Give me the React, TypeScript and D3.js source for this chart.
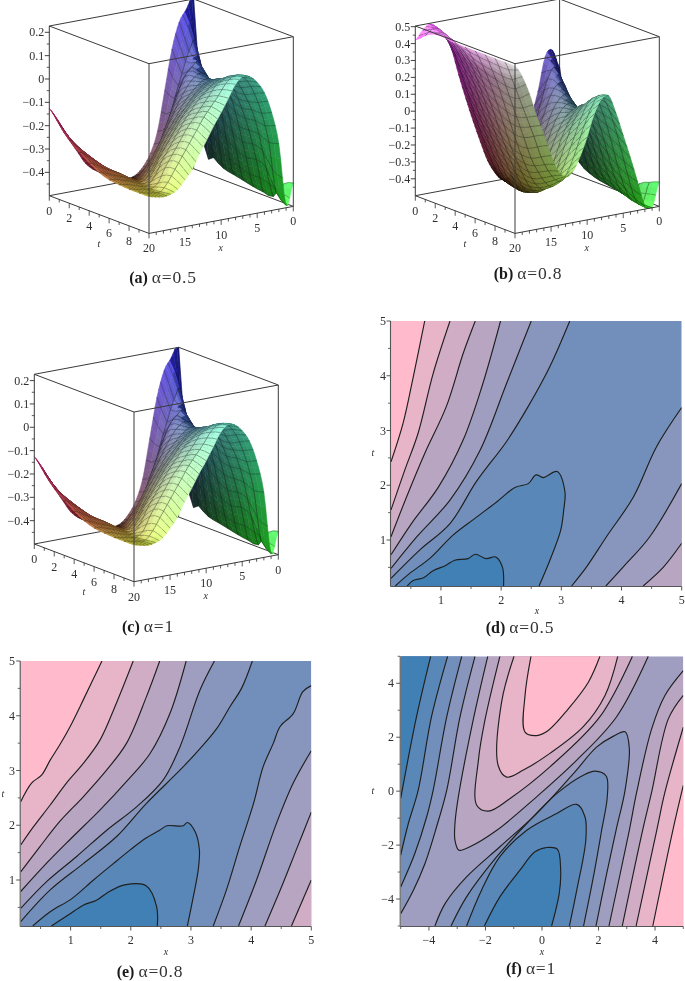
import React from "react";
import * as d3 from "d3";

type Pt = [number, number];
type Closure = "TL" | "BR" | "EDGE";
type Line = [number, Closure, Pt[]];

const surfaceA: number[][] = [
  [.25,.19,.14,.03,-.14,-.31,-.40,-.45,-.48,-.49,-.49,-.475,-.46,-.44,-.42,-.39,-.34,-.29,-.24,-.18,-.126],
  [-.376,.05,.03,-.06,-.16,-.27,-.36,-.42,-.45,-.465,-.47,-.47,-.455,-.435,-.41,-.38,-.345,-.31,-.27,-.225,-.18],
  [-.42,-.12,0,-.015,-.05,-.12,-.2,-.28,-.35,-.39,-.43,-.45,-.45,-.43,-.41,-.38,-.35,-.32,-.29,-.26,-.23],
  [-.45,-.25,-.06,-.025,-.035,-.07,-.12,-.18,-.24,-.30,-.36,-.41,-.43,-.425,-.405,-.385,-.36,-.335,-.31,-.285,-.265],
  [-.46,-.30,-.13,-.04,-.03,-.05,-.08,-.12,-.17,-.22,-.27,-.33,-.385,-.41,-.40,-.38,-.36,-.345,-.33,-.31,-.295],
  [-.47,-.33,-.18,-.06,-.015,-.02,-.04,-.07,-.11,-.15,-.20,-.25,-.31,-.365,-.395,-.385,-.37,-.355,-.345,-.33,-.32],
  [-.48,-.35,-.21,-.09,-.01,.01,0,-.02,-.05,-.09,-.13,-.18,-.23,-.28,-.34,-.38,-.375,-.36,-.35,-.34,-.335],
  [-.487,-.34,-.21,-.11,-.03,.025,.03,.015,-.01,-.04,-.08,-.12,-.17,-.22,-.27,-.33,-.365,-.365,-.355,-.345,-.34],
  [-.49,-.36,-.21,-.10,-.03,.03,.06,.05,.03,-.01,-.05,-.09,-.13,-.18,-.23,-.28,-.34,-.36,-.355,-.35,-.343],
  [-.42,-.45,-.23,-.10,-.01,.05,.08,.08,.055,.01,-.03,-.07,-.12,-.17,-.22,-.27,-.32,-.355,-.355,-.35,-.343],
  [-.40,-.49,-.22,-.08,.01,.06,.09,.097,.07,.015,-.04,-.09,-.146,-.20,-.26,-.30,-.335,-.35,-.355,-.35,-.343],
];
const surfaceB: number[][] = [
  [.10,.21,.18,-.02,-.17,-.32,-.43,-.49,-.5,-.45,-.37,-.25,-.12,.02,.17,.33,.42,.47,.5,.47,.42],
  [-.3,.02,.14,.08,-.06,-.2,-.33,-.43,-.48,-.48,-.42,-.32,-.2,-.07,.07,.21,.34,.43,.49,.5,.47],
  [-.42,-.15,.05,.07,.01,-.1,-.22,-.34,-.43,-.47,-.46,-.38,-.27,-.14,-.01,.13,.27,.38,.46,.5,.5],
  [-.46,-.28,-.07,.03,.02,-.04,-.14,-.26,-.37,-.45,-.47,-.43,-.33,-.21,-.08,.06,.2,.32,.42,.48,.5],
  [-.48,-.36,-.18,-.03,.01,-.01,-.07,-.17,-.29,-.40,-.46,-.45,-.37,-.26,-.14,-.01,.13,.26,.37,.45,.49],
  [-.49,-.42,-.27,-.11,-.01,0,-.03,-.1,-.2,-.32,-.42,-.44,-.4,-.31,-.19,-.07,.07,.2,.32,.42,.49],
  [-.5,-.45,-.33,-.17,-.03,.05,.03,-.03,-.12,-.24,-.35,-.41,-.4,-.33,-.23,-.12,.02,.16,.29,.4,.49],
  [-.5,-.48,-.38,-.23,-.07,.05,.09,.05,-.03,-.14,-.26,-.35,-.37,-.33,-.25,-.14,-.01,.13,.27,.39,.49],
  [-.41,-.5,-.42,-.28,-.11,.04,.14,.13,.05,-.06,-.17,-.27,-.33,-.3,-.23,-.14,-.01,.12,.25,.38,.49],
  [-.38,-.5,-.46,-.31,-.14,.02,.14,.19,.13,.03,-.09,-.2,-.27,-.26,-.2,-.11,.02,.14,.26,.38,.49],
  [-.355,-.5,-.48,-.33,-.18,-.04,.10,.21,.2,.12,-.01,-.12,-.2,-.22,-.18,-.08,.05,.17,.31,.42,.49],
];
const surfaceC = surfaceA;

const uTicksAC = [.2,.1,0,-.1,-.2,-.3,-.4];
const uTicksB = [.5,.4,.3,.2,.1,0,-.1,-.2,-.3,-.4];
const xTicks3d = [0,5,10,15,20];
const tTicks3d = [0,2,4,6,8];

const linesD: Line[] = [
  [3,"TL",[[.17,.30],[.65,.82],[1.15,1.30],[1.59,2.07],[2.09,2.80],[2.45,3.44],[2.81,4.17],[3.14,5]]],
  [4,"TL",[[.17,.48],[.60,1.06],[1.15,1.73],[1.65,2.64],[2.09,3.86],[2.50,5]]],
  [5,"TL",[[.17,.73],[.51,1.30],[.96,1.97],[1.37,2.83],[1.68,3.80],[1.99,5]]],
  [6,"TL",[[.17,1.06],[.43,1.79],[.73,2.58],[1.09,3.44],[1.37,4.41],[1.57,5]]],
  [7,"TL",[[.17,1.55],[.40,2.28],[.62,2.95],[.87,4.04],[1.15,5]]],
  [8,"TL",[[.17,2.43],[.37,3.13],[.54,3.98],[.73,5]]],
  [1,"EDGE",[[.24,.16],[.48,.39],[.82,.67],[1.20,1.09],[1.57,1.40],[1.93,1.70],[2.23,1.96],[2.45,2.03],[2.58,2.19],[2.70,2.14],[2.93,2.25],[3.06,1.88],[3.04,1.55],[2.99,1.18],[2.81,.63],[2.63,.16]]],
  [0,"EDGE",[[.44,.16],[.54,.26],[.71,.31],[.87,.44],[1.07,.53],[1.23,.63],[1.45,.66],[1.57,.74],[1.75,.66],[1.91,.69],[2.02,.51],[2.04,.16]]],
  [3,"BR",[[3.17,.16],[3.42,.51],[3.75,1.06],[4.20,1.79],[4.58,2.70],[5,3.42]]],
  [4,"BR",[[3.74,.16],[4.03,.51],[4.47,1.06],[5,2.03]]],
  [5,"BR",[[4.36,.16],[4.70,.51],[5,.94]]],
];
const linesE: Line[] = [
  [3,"TL",[[.17,.24],[.66,.82],[1.21,1.30],[1.76,1.79],[2.26,2.40],[2.82,3.01],[3.15,3.40],[3.43,3.77],[3.65,4.17],[3.84,4.50],[4.02,5]]],
  [4,"TL",[[.17,.48],[.60,.97],[1.10,1.43],[1.60,1.91],[2.10,2.34],[2.54,2.83],[2.82,3.44],[3.15,4.47],[3.39,5]]],
  [5,"TL",[[.17,.79],[.55,1.25],[.99,1.74],[1.49,2.28],[1.93,2.80],[2.32,3.31],[2.65,4.04],[2.92,5]]],
  [6,"TL",[[.17,1.15],[.49,1.61],[.82,2.07],[1.21,2.52],[1.60,3.01],[1.93,3.50],[2.26,4.35],[2.48,5]]],
  [7,"TL",[[.17,1.64],[.38,1.97],[.66,2.37],[.93,2.77],[1.21,3.13],[1.49,3.56],[1.76,4.23],[2.04,5]]],
  [8,"TL",[[.17,2.43],[.35,2.77],[.52,2.92],[.66,3.19],[.82,3.47],[.99,3.80],[1.21,4.29],[1.38,4.68],[1.52,5]]],
  [1,"EDGE",[[.37,.16],[.66,.42],[1.02,.66],[1.38,1.00],[1.71,1.30],[1.99,1.55],[2.24,1.76],[2.48,1.91],[2.60,1.99],[2.87,1.99],[2.94,2.05],[3.07,1.88],[3.14,1.55],[3.12,1.18],[3.04,.70],[2.94,.16]]],
  [0,"EDGE",[[.68,.16],[.96,.36],[1.21,.54],[1.43,.63],[1.60,.76],[1.90,.91],[2.26,.89],[2.43,.51],[2.44,.16]]],
  [3,"BR",[[3.37,.16],[3.59,.82],[3.81,1.61],[4.04,2.40],[4.20,3.07],[4.37,3.50],[4.48,3.80],[4.70,4.04],[4.86,4.44],[5,4.55]]],
  [4,"BR",[[3.79,.16],[4.09,1.0],[4.42,2.03],[4.70,2.77],[5,3.36]]],
  [5,"BR",[[4.23,.16],[4.53,.94],[4.75,1.55],[5,2.24]]],
  [6,"BR",[[4.67,.16],[5,1.0]]],
];
const linesF: Line[] = [
  [3,"TL",[[-2.37,5],[-2.90,2.76],[-3.37,.04],[-3.73,-1.32],[-4.14,-2.68],[-4.55,-3.67],[-5,-4.54]]],
  [2,"TL",[[-2.84,5],[-3.37,2.76],[-3.85,.04],[-4.08,-.95],[-4.50,-2.31],[-5,-3.55]]],
  [1,"TL",[[-3.34,5],[-3.91,2.76],[-4.38,.04],[-4.73,-1.2],[-5,-2.37]]],
  [0,"TL",[[-3.94,5],[-4.44,2.76],[-5,-.27]]],
  [5,"EDGE",[[-1.92,5],[-2.41,2.76],[-2.96,-.21],[-3.08,-1.2],[-3.08,-1.82],[-2.94,-2.19],[-2.55,-2.06],[-1.60,-1.45],[-.19,-.21],[1.23,1.15],[2.64,2.76],[3.76,5]]],
  [6,"EDGE",[[-1.49,5],[-2.02,2.63],[-2.25,1.15],[-2.31,-.52],[-1.90,-.74],[-1.13,-.27],[.28,.90],[2.05,2.76],[3.20,5]]],
  [7,"EDGE",[[-.99,5],[-1.43,3.30],[-1.55,.95],[-1.25,.52],[-.66,.78],[.28,1.40],[1.46,2.39],[2.23,3.55],[2.68,5]]],
  [8,"EDGE",[[-.39,5],[-.60,3.55],[-.60,2.19],[-.19,2.06],[.22,2.25],[.93,3.05],[1.64,4.04],[2.05,5]]],
  [3,"EDGE",[[-3.79,-5],[-3.43,-4.17],[-2.67,-3.18],[-1.49,-2.06],[-.19,-.83],[1.11,.65],[1.94,1.64],[2.53,2.04],[2.94,2.20],[3.09,1.58],[2.94,.04],[2.62,-1.45],[2.3,-3],[1.91,-5]]],
  [2,"EDGE",[[-3.22,-5],[-2.67,-3.92],[-1.60,-2.43],[-.54,-1.20],[.52,-.09],[1.46,.59],[1.88,.74],[2.27,.56],[2.31,-.21],[2.11,-1.45],[1.85,-3],[1.47,-5]]],
  [1,"EDGE",[[-2.67,-5],[-2.14,-3.67],[-1.49,-2.43],[-.54,-1.45],[.52,-.83],[1.23,-.49],[1.52,-.95],[1.55,-1.82],[1.23,-3.67],[.97,-5]]],
  [0,"EDGE",[[-2.04,-5],[-1.49,-3.92],[-.78,-2.93],[-.25,-2.25],[.17,-2.09],[.54,-2.15],[.66,-2.93],[.61,-3.79],[.34,-5]]],
  [5,"BR",[[2.37,-5],[3.09,-1.45],[3.35,-.04],[3.88,2.31],[4.35,3.55],[5,4.47]]],
  [6,"BR",[[2.84,-5],[3.56,-1.45],[3.88,-.04],[4.47,2.68],[5,3.55]]],
  [7,"BR",[[3.33,-5],[4.06,-1.45],[4.35,-.04],[5,2.37]]],
  [8,"BR",[[3.92,-5],[4.63,-1.45],[5,.21]]],
];

const SERIF = "'Liberation Serif','Times New Roman',serif";
const INK = "#2f2f2f";
const bandColor = d3.scaleLinear<string>().domain([0, 8]).range(["#4180B4", "#FFBBCB"]);
const fmt = (v: number) => (v < 0 ? "\u2212" : "") + Math.abs(v).toString().replace(/^0\./, "0.");

const catmull = (a: number, b: number, c: number, d: number, f: number) =>
  0.5 * (2 * b + (-a + c) * f + (2 * a - 5 * b + 4 * c - d) * f * f + (-a + 3 * b - 3 * c + d) * f * f * f);

function spline(vals: number[], pos: number) {
  const n = vals.length;
  const i = Math.min(Math.floor(pos), n - 2);
  return catmull(vals[Math.max(i - 1, 0)], vals[i], vals[i + 1], vals[Math.min(i + 2, n - 1)], pos - i);
}

function Surface({ grid, lx, ly, uDomain, uTicks, uMinor }: { grid: number[][]; lx: number; ly: number; uDomain: [number, number]; uTicks: number[]; uMinor: number[] }) {
  const sS = d3.scaleLinear().domain([20, 0]).range([0, 1]);
  const rS = d3.scaleLinear().domain([0, 10]).range([0, 1]);
  const zS = d3.scaleLinear().domain(uDomain).range([0, 169.7]);
  const uN = d3.scaleLinear().domain(uDomain).range([0, 1]).clamp(true);
  const P = (x: number, t: number, u: number): Pt => [
    lx + sS(x) * 144.3 + rS(t) * 99.7,
    ly - sS(x) * 27 + rS(t) * 37.7 - zS(u),
  ];
  const [uLo, uHi] = uDomain;
  const seg = (a: Pt, b: Pt) => `M${a[0]},${a[1]}L${b[0]},${b[1]}`;

  const cells = React.useMemo(() => {
    const nx = 80, nt = 20;
    const fineRows = grid.map((row) => d3.range(nx + 1).map((i) => spline(row, i / 4)));
    const U = d3.range(nt + 1).map((j) =>
      d3.range(nx + 1).map((i) =>
        Math.max(uLo, Math.min(uHi, spline(fineRows.map((r) => r[i]), j / 2)))
      )
    );
    const out: React.ReactNode[] = [];
    for (let j = 0; j < nt; j++) {
      for (let i = 0; i < nx; i++) {
        const x0 = i / 4, x1 = (i + 1) / 4, t0 = j / 2, t1 = (j + 1) / 2;
        const a = P(x0, t0, U[j][i]), b = P(x1, t0, U[j][i + 1]), c = P(x1, t1, U[j + 1][i + 1]), d = P(x0, t1, U[j + 1][i]);
        const uAvg = (U[j][i] + U[j][i + 1] + U[j + 1][i] + U[j + 1][i + 1]) / 4;
        const dUdX = (uN(U[j][i + 1]) + uN(U[j + 1][i + 1]) - uN(U[j][i]) - uN(U[j + 1][i])) / 2 / (0.25 / 20);
        const dUdT = (uN(U[j + 1][i]) + uN(U[j + 1][i + 1]) - uN(U[j][i]) - uN(U[j][i + 1])) / 2 / (0.5 / 10);
        const len = Math.hypot(dUdX, dUdT, 1);
        const dot = (-dUdX * 0.55 - dUdT * 0.35 + 0.75) / len;
        const dot2 = (-dUdX * 0.8 - dUdT * 0.1 + 0.55) / len;
        const spec = Math.max(0, dot2 - 0.6) / 0.4;
        const xm = (x0 + x1) / 2;
        const n = uN(uAvg);
        const low = 1 - 0.6 * (1 - Math.min(1, n / 0.15)) * Math.min(1, Math.max(0, (xm - 4) / 4));
        const light = (0.86 + 0.2 * Math.max(0, dot)) * low;
        const hi = Math.max(0, n - 0.85) / 0.15 * Math.min(1, Math.max(0, (xm - 15) / 3)) * 70;
        const ch = (v: number) => (25 + 0.62 * 255 * v) * light + 82 * spec + hi;
        const col = d3.rgb(ch(xm / 20), ch((t0 + t1) / 2 / 10), ch(n)).formatRgb();
        out.push(<path key={`f${j}-${i}`} d={`M${a}L${b}L${c}L${d}Z`} fill={col} stroke={col} strokeWidth={0.5} />);
        if (i % 2 === 0) out.push(<path key={`x${j}-${i}`} d={seg(a, d)} stroke="#000" strokeOpacity={0.42} strokeWidth={0.75} fill="none" />);
        if (j % 2 === 0 && j > 0) out.push(<path key={`t${j}-${i}`} d={seg(a, b)} stroke="#000" strokeOpacity={0.5} strokeWidth={0.8} fill="none" />);
      }
    }
    return out;
  }, [grid]);

  const edge = (key: string, a: Pt, b: Pt) => <path key={key} d={seg(a, b)} stroke="#3a3a3a" strokeWidth={1} fill="none" />;
  const left = (u: number) => P(20, 0, u);

  return (
    <g fontFamily={SERIF}>
      {edge("bb1", P(20, 0, uLo), P(0, 0, uLo))}
      {edge("bb2", P(0, 0, uLo), P(0, 10, uLo))}
      {edge("bb3", P(0, 0, uLo), P(0, 0, uHi))}
      {cells}
      {edge("f1", P(20, 0, uLo), P(20, 10, uLo))}
      {edge("f2", P(20, 10, uLo), P(0, 10, uLo))}
      {edge("f3", P(20, 0, uLo), P(20, 0, uHi))}
      {edge("f4", P(20, 10, uLo), P(20, 10, uHi))}
      {edge("f5", P(0, 10, uLo), P(0, 10, uHi))}
      {edge("t1", P(20, 0, uHi), P(20, 10, uHi))}
      {edge("t2", P(20, 10, uHi), P(0, 10, uHi))}
      {edge("t3", P(0, 10, uHi), P(0, 0, uHi))}
      {edge("t4", P(0, 0, uHi), P(20, 0, uHi))}
      {uTicks.map((u) => {
        const p = left(u);
        return (
          <g key={`ut${u}`}>
            <line x1={p[0] - 4.5} x2={p[0]} y1={p[1]} y2={p[1]} stroke={INK} strokeWidth={0.9} />
            <text x={p[0] - 5} y={p[1] + 4} textAnchor="end" fontSize={12} fill={INK}>{fmt(u)}</text>
          </g>
        );
      })}
      {uMinor.map((u) => {
        const p = left(u);
        return <line key={`um${u}`} x1={p[0] - 2.5} x2={p[0]} y1={p[1]} y2={p[1]} stroke={INK} strokeWidth={0.8} />;
      })}
      {d3.range(0, 21).map((x) => {
        const p = P(x, 10, uLo);
        return <line key={`xt${x}`} x1={p[0]} x2={p[0]} y1={p[1]} y2={p[1] + (x % 5 === 0 ? 5 : 3)} stroke={INK} strokeWidth={0.8} />;
      })}
      {d3.range(0, 10).map((t) => {
        const p = P(20, t, uLo);
        return <line key={`tt${t}`} x1={p[0]} x2={p[0]} y1={p[1]} y2={p[1] + (t % 2 === 0 ? 5 : 3)} stroke={INK} strokeWidth={0.8} />;
      })}
      {xTicks3d.map((x) => {
        const p = P(x, 10, uLo);
        return <text key={`xl${x}`} x={p[0]} y={p[1] + 19} textAnchor="middle" fontSize={12} fill={INK}>{x}</text>;
      })}
      {tTicks3d.map((t) => {
        const p = P(20, t, uLo);
        return <text key={`tl${t}`} x={p[0]} y={p[1] + 19} textAnchor="middle" fontSize={12} fill={INK}>{t}</text>;
      })}
      <text x={lx + 49.7} y={ly + 51} textAnchor="middle" fontSize={10} fontStyle="italic" fill={INK}>t</text>
      <text x={lx + 171.4} y={ly + 55} textAnchor="middle" fontSize={10} fontStyle="italic" fill={INK}>x</text>
    </g>
  );
}

function Contour({ lines, base, xDomain, tDomain, xRange, tRange, xMajor, xMinor, tMajor, tMinor, id, xLabel, tLabel, tickRight }: {
  lines: Line[]; base: number; xDomain: [number, number]; tDomain: [number, number]; xRange: [number, number]; tRange: [number, number];
  xMajor: number[]; xMinor: number[]; tMajor: number[]; tMinor: number[]; id: string; xLabel: Pt; tLabel: Pt; tickRight: number;
}) {
  const sx = d3.scaleLinear().domain(xDomain).range(xRange);
  const st = d3.scaleLinear().domain(tDomain).range(tRange);
  const gen = d3.line<Pt>().x((d) => sx(d[0])).y((d) => st(d[1])).curve(d3.curveCatmullRom.alpha(0.5));
  const corner = (c: Closure) =>
    c === "TL" ? `L${sx(xDomain[0])},${st(tDomain[1])}Z` : c === "BR" ? `L${sx(xDomain[1])},${st(tDomain[0])}Z` : "Z";
  const axisY = st(tDomain[0]) + 0.5;
  const axisX = sx(xDomain[0]) - 0.5;
  return (
    <g fontFamily={SERIF}>
      <clipPath id={id}>
        <rect x={xRange[0]} y={tRange[1]} width={xRange[1] - xRange[0]} height={tRange[0] - tRange[1]} />
      </clipPath>
      <g clipPath={`url(#${id})`}>
        <rect x={xRange[0]} y={tRange[1]} width={xRange[1] - xRange[0]} height={tRange[0] - tRange[1]} fill={bandColor(base)} />
        {lines.map(([lvl, c, pts], i) => <path key={`b${i}`} d={gen(pts)! + corner(c)} fill={bandColor(lvl)} />)}
        {lines.map(([, , pts], i) => <path key={`l${i}`} d={gen(pts)!} fill="none" stroke="#1f1f1f" strokeWidth={1.15} strokeLinejoin="round" />)}
      </g>
      <line x1={axisX} x2={axisX} y1={tRange[1]} y2={axisY} stroke="#555" strokeWidth={1.1} />
      <line x1={axisX} x2={xRange[1]} y1={axisY} y2={axisY} stroke="#555" strokeWidth={1.1} />
      {xMajor.map((v) => (
        <g key={`xM${v}`}>
          <line x1={sx(v)} x2={sx(v)} y1={axisY} y2={axisY + 4} stroke="#444" strokeWidth={0.9} />
          <text x={sx(v)} y={axisY + 17} textAnchor="middle" fontSize={12} fill={INK}>{fmt(v)}</text>
        </g>
      ))}
      {xMinor.map((v) => <line key={`xm${v}`} x1={sx(v)} x2={sx(v)} y1={axisY} y2={axisY + 2.5} stroke="#444" strokeWidth={0.8} />)}
      {tMajor.map((v) => (
        <g key={`tM${v}`}>
          <line x1={axisX - 4} x2={axisX} y1={st(v)} y2={st(v)} stroke="#444" strokeWidth={0.9} />
          <text x={tickRight} y={st(v) + 4} textAnchor="end" fontSize={12} fill={INK}>{fmt(v)}</text>
        </g>
      ))}
      {tMinor.map((v) => <line key={`tm${v}`} x1={axisX - 2.5} x2={axisX} y1={st(v)} y2={st(v)} stroke="#444" strokeWidth={0.8} />)}
      <text x={xLabel[0]} y={xLabel[1]} textAnchor="middle" fontSize={10} fontStyle="italic" fill={INK}>x</text>
      <text x={tLabel[0]} y={tLabel[1]} textAnchor="middle" fontSize={10} fontStyle="italic" fill={INK}>t</text>
    </g>
  );
}

function Caption({ x, y, tag, rest }: { x: number; y: number; tag: string; rest: string }) {
  return (
    <text x={x} y={y} textAnchor="middle" fontFamily={SERIF} fontSize={16} fill="#1a1a1a">
      <tspan fontWeight="bold">{tag}</tspan>
      <tspan dx={4} fontSize={17.5} letterSpacing={0.8} fill="#333">{rest}</tspan>
    </text>
  );
}

const minorAC = [.15,.05,-.05,-.15,-.25,-.35,-.45];
const minorB = [.45,.35,.25,.15,.05,-.05,-.15,-.25,-.35,-.45];
const dMajor = [1,2,3,4,5];
const dMinor = [.5,1.5,2.5,3.5,4.5];
const fxMajor = [-4,-2,0,2,4];
const fMinor = [-5,-3,-1,1,3,5];
const ftMajor = [-4,-2,0,2,4];

export default function App() {
  return (
    <svg width={685} height={981} viewBox="0 0 685 981" style={{ position: "absolute", left: 0, top: 0, background: "#fff", filter: "blur(0.45px)" }}>
      <Surface grid={surfaceA} lx={49.3} ly={195.7} uDomain={[-.5, .227]} uTicks={uTicksAC} uMinor={minorAC} />
      <Surface grid={surfaceB} lx={415.3} ly={195.7} uDomain={[-.5, .504]} uTicks={uTicksB} uMinor={minorB} />
      <Surface grid={surfaceC} lx={34.3} ly={544} uDomain={[-.5, .227]} uTicks={uTicksAC} uMinor={minorAC} />
      <Contour id="cd" lines={linesD} base={2} xDomain={[.17, 5]} tDomain={[.16, 5]} xRange={[391, 681.7]} tRange={[586, 321]}
        xMajor={dMajor} xMinor={dMinor} tMajor={dMajor} tMinor={dMinor} xLabel={[537, 614]} tLabel={[373, 456]} tickRight={386} />
      <Contour id="ce" lines={linesE} base={2} xDomain={[.17, 5]} tDomain={[.16, 5]} xRange={[20.7, 311.3]} tRange={[926, 661]}
        xMajor={dMajor} xMinor={dMinor} tMajor={dMajor} tMinor={dMinor} xLabel={[166, 955]} tLabel={[3, 797]} tickRight={15} />
      <Contour id="cf" lines={linesF} base={4} xDomain={[-5, 5]} tDomain={[-5, 5]} xRange={[400.7, 683.3]} tRange={[926, 656.3]}
        xMajor={fxMajor} xMinor={fMinor} tMajor={ftMajor} tMinor={fMinor} xLabel={[542, 955]} tLabel={[373, 794]} tickRight={394} />
      <Caption x={163} y={283} tag="(a)" rest="α=0.5" />
      <Caption x={528} y={279} tag="(b)" rest="α=0.8" />
      <Caption x={148} y={632} tag="(c)" rest="α=1" />
      <Caption x={520} y={633} tag="(d)" rest="α=0.5" />
      <Caption x={150} y={977} tag="(e)" rest="α=0.8" />
      <Caption x={531} y={974} tag="(f)" rest="α=1" />
    </svg>
  );
}
